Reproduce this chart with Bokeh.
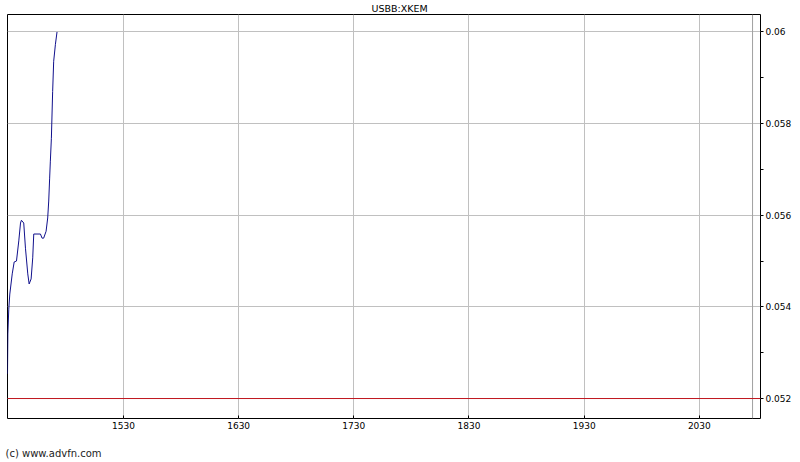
from bokeh.plotting import figure
from bokeh.models import (LinearAxis, FixedTicker, Span, Range1d, Title)
from bokeh.embed import file_html
from bokeh.resources import INLINE

# ---- data ----
chart_title = "USBB:XKEM"
copyright_text = "(c) www.advfn.com"

price_x = [1429.3, 1429.6, 1430.4, 1431.3, 1433.4, 1435.1, 1437.1, 1439.1,
           1440.6, 1441.4, 1443.4, 1444.9, 1446.9, 1448.1, 1449.8, 1451.2,
           1452.1, 1457.9, 1459.3, 1460.7, 1462.8, 1464.2, 1465.1, 1465.9,
           1466.5, 1467.4, 1468.5, 1469.4, 1470.9, 1472.3]
price_y = [0.05254, 0.05341, 0.05395, 0.05428, 0.05472, 0.05498, 0.05500, 0.05544,
           0.05583, 0.05589, 0.05583, 0.05528, 0.05472, 0.05450, 0.05461, 0.05507,
           0.05559, 0.05559, 0.05550, 0.05550, 0.05565, 0.05594, 0.05631, 0.05681,
           0.05718, 0.05768, 0.05870, 0.05936, 0.05973, 0.06000]

ref_level = 0.052          # red horizontal line
x_marker = 2076.2          # grey vertical line near right edge

x_ticks = [1530, 1630, 1730, 1830, 1930, 2030]
x_tick_labels = ["1530", "1630", "1730", "1830", "1930", "2030"]
y_ticks = [0.052, 0.054, 0.056, 0.058, 0.060]
y_tick_labels = ["0.052", "0.054", "0.056", "0.058", "0.06"]
y_minor_ticks = [0.053, 0.055, 0.057, 0.059]

FONT = "DejaVu Sans"
X0, X1 = 1429.3, 2083.1
Y0, Y1 = 0.051564, 0.060381

p = figure(width=794, height=460, output_backend="svg", toolbar_location=None,
           x_range=Range1d(X0, X1), y_range=Range1d(Y0, Y1),
           x_axis_location=None, y_axis_location=None,
           min_border_left=7, min_border_top=13, min_border_right=32,
           min_border_bottom=42)
p.background_fill_color = "white"
p.border_fill_color = "white"
p.outline_line_color = "black"
p.outline_line_width = 1

# title
p.title.text = chart_title
p.title.align = "left"
p.title.text_font = FONT
p.title.text_font_size = "9.5px"
p.title.text_font_style = "normal"
p.title.text_color = "black"
p.title.standoff = 1
p.title.offset = 364

# axes
xt = FixedTicker(ticks=x_ticks, minor_ticks=[])
xaxis = LinearAxis(ticker=xt, axis_line_color=None,
                   major_tick_in=3, major_tick_out=0, minor_tick_line_color=None,
                   major_label_standoff=3,
                   major_label_text_font=FONT, major_label_text_font_size="9px",
                   major_label_text_color="black",
                   axis_label=" ", axis_label_standoff=0,
                   axis_label_text_font=FONT, axis_label_text_font_size="10px",
                   major_label_overrides={t: l for t, l in zip(x_ticks, x_tick_labels)})
p.add_layout(xaxis, "below")

yt = FixedTicker(ticks=y_ticks, minor_ticks=y_minor_ticks)
yaxis = LinearAxis(ticker=yt, axis_line_color=None,
                   major_tick_in=0, major_tick_out=3,
                   minor_tick_in=0, minor_tick_out=3, minor_tick_line_color="black",
                   major_label_standoff=2,
                   major_label_text_font=FONT, major_label_text_font_size="9px",
                   major_label_text_color="black",
                   major_label_overrides={t: l for t, l in zip(y_ticks, y_tick_labels)})
p.add_layout(yaxis, "right")

# copyright line under the chart
p.add_layout(Title(text=copyright_text, align="left", text_font=FONT,
                   text_font_size="10px", text_font_style="normal",
                   text_color="#222222", standoff=0, offset=-2), "below")

# grids
p.xgrid.ticker = xt
p.ygrid.ticker = FixedTicker(ticks=y_ticks, minor_ticks=[])
p.xgrid.grid_line_color = "#c0c0c0"
p.ygrid.grid_line_color = "#c0c0c0"
p.xgrid.grid_line_alpha = 1
p.ygrid.grid_line_alpha = 1

p.add_layout(Span(location=x_marker, dimension="height", line_color="#a0a0a0", line_width=1))
p.add_layout(Span(location=ref_level, dimension="width", line_color="#c01820", line_width=1))

p.line(price_x, price_y, line_color="#10108c", line_width=1)

open("out.html", "w").write(file_html(p, INLINE))
